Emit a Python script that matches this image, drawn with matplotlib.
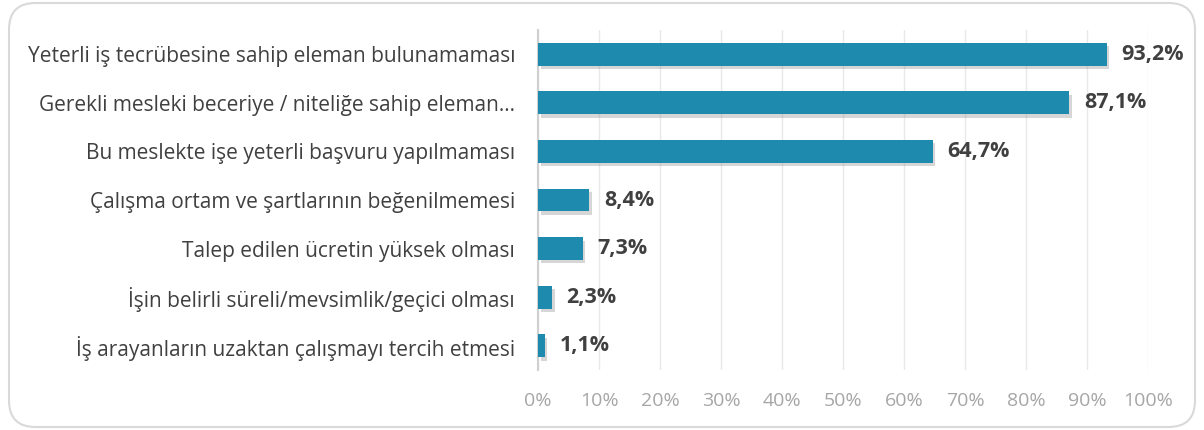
import matplotlib
matplotlib.use("Agg")
import matplotlib.pyplot as plt
from matplotlib.patches import FancyBboxPatch
import matplotlib.patheffects as pe

categories = [
    "Yeterli iş tecrübesine sahip eleman bulunamaması",
    "Gerekli mesleki beceriye / niteliğe sahip eleman…",
    "Bu meslekte işe yeterli başvuru yapılmaması",
    "Çalışma ortam ve şartlarının beğenilmemesi",
    "Talep edilen ücretin yüksek olması",
    "İşin belirli süreli/mevsimlik/geçici olması",
    "İş arayanların uzaktan çalışmayı tercih etmesi",
]
values = [93.2, 87.1, 64.7, 8.4, 7.3, 2.3, 1.1]
value_labels = ["93,2%", "87,1%", "64,7%", "8,4%", "7,3%", "2,3%", "1,1%"]
xticks = [0, 10, 20, 30, 40, 50, 60, 70, 80, 90, 100]
xtick_labels = [f"{t}%" for t in xticks]

plt.rcParams['font.family'] = ['Open Sans', 'DejaVu Sans']

W, H = 1204, 430
fig = plt.figure(figsize=(W / 100, H / 100), dpi=100)
fig.patch.set_facecolor("white")

border = FancyBboxPatch((9 / W, 3 / H), (1195 - 9) / W, (427 - 3) / H,
                        boxstyle="round,pad=0,rounding_size=0.022",
                        transform=fig.transFigure, facecolor="white",
                        edgecolor="#D9D9D9", linewidth=1.5, mutation_aspect=W / H,
                        zorder=-5)
fig.patches.append(border)

left, right = 538 / W, 1148 / W
top, bottom = 1 - 30 / H, 1 - 370 / H
ax = fig.add_axes([left, bottom, right - left, top - bottom])
ax.set_zorder(2)
ax.set_facecolor("none")

n = len(categories)
ypos = list(range(n))
bars = ax.barh(ypos, values, height=0.47, color="#1E8AAD", zorder=3)
for b in bars:
    b.set_path_effects([pe.SimplePatchShadow(offset=(2, -2.5), shadow_rgbFace="#8a8a8a", alpha=0.35),
                        pe.Normal()])

ax.set_xlim(0, 100)
ax.set_ylim(n - 0.5, -0.5)
ax.set_xticks(xticks)
ax.set_xticklabels(xtick_labels, color="#A6A6A6", fontsize=14)
ax.set_yticks(ypos)
ax.set_yticklabels(categories, color="#404040", fontsize=15)
ax.tick_params(axis="both", length=0)
ax.tick_params(axis="x", pad=16)
ax.tick_params(axis="y", pad=16.5)
ax.xaxis.grid(True, color="#E8E8E8", linewidth=1, zorder=0)
ax.set_axisbelow(True)
for s in ["top", "right", "bottom"]:
    ax.spines[s].set_visible(False)
ax.spines["left"].set_color("#D0D0D0")
ax.spines["left"].set_linewidth(1.5)

for y, v, lab in zip(ypos, values, value_labels):
    ax.text(v + 2.4, y, lab, va="center", ha="left", fontsize=15.5,
            fontweight="bold", color="#404040")

fig.savefig("out.png", dpi=100)
